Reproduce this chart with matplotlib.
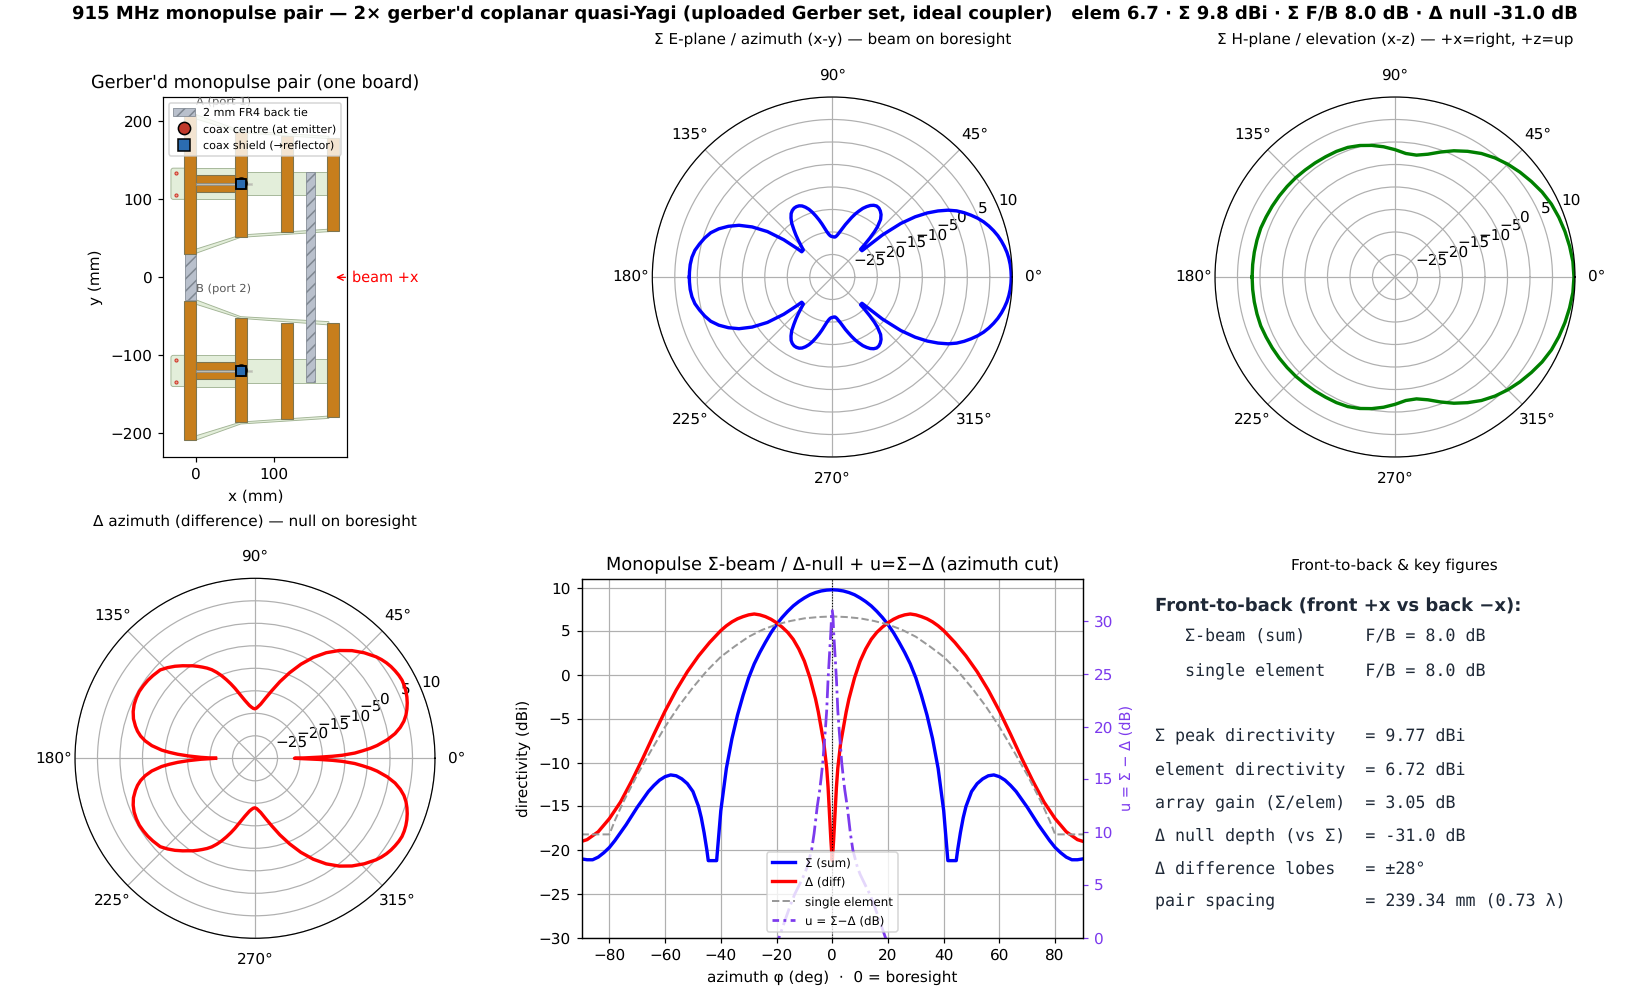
import numpy as np
import matplotlib
matplotlib.use('Agg')
import matplotlib.pyplot as plt
from matplotlib.patches import Rectangle, Polygon, FancyBboxPatch

plt.rcParams['text.hinting'] = 'none'
plt.rcParams['axes.labelpad'] = 4.8

# sum beam, azimuth cut (0..180, other side is the mirror)
sum_ang = [0,2,4,6,8,10,12,14,16,18,20,22,24,26,28,30,32,34,36,38,40,41.5,44.5,45,46,47,48,50,52,54,56,58,60,62,64,66,68,70,72,74,76,78,80,82,84,86,88,90,
           91,93,95,97,99,101,103,105,107,109,111,113,115,117,119,121,123,125,127,129,131,133,135,137,140.5,141,142.5,145,148,151,154,157,160,163,166,169,172,175,178,180]
sum_db = [9.77,9.73,9.63,9.45,9.2,8.84,8.42,7.92,7.3,6.6,5.8,4.85,3.76,2.6,1.3,-0.3,-2.3,-4.55,-7.25,-10.65,-15.5,-21.2,-21.2,-20.0,-18.0,-16.3,-15.0,-13.3,-12.4,-11.85,-11.5,-11.4,-11.6,-12.0,-12.6,-13.3,-14.2,-15.1,-16.1,-17.1,-18.0,-18.9,-19.7,-20.3,-20.8,-21.1,-21.1,-21.0,
          -21.0,-20.8,-20.4,-19.8,-19.0,-18.0,-17.0,-16.0,-15.0,-14.1,-13.4,-12.85,-12.55,-12.45,-12.5,-12.75,-13.2,-14.0,-15.0,-16.4,-17.7,-19.0,-20.2,-21.2,-21.2,-19.9,-16.4,-12.4,-9.0,-6.3,-4.3,-2.6,-1.25,-0.35,0.4,1.1,1.5,1.7,1.76,1.77]

# difference beam
diff_ang = [0,0.5,1,1.5,2,2.5,3,4,5,6,8,10,12,14,16,18,20,22,24,26,28,30,32,34,36,38,40,44,48,52,56,60,64,68,72,76,80,84,88,90,
            92,94,96,98,100,102,104,106,108,110,112,114,116,118,120,122,124,126,128,131,134,137,141,144,147,150,153,156,159,162,165,167,169,171,173,175,176,177,178,179,179.5,180]
diff_db = [-21.23,-18.8,-15.8,-12.8,-10.6,-9.2,-7.8,-6.0,-4.2,-2.7,-0.3,1.6,3.0,4.1,4.9,5.5,6.0,6.4,6.7,6.9,7.0,6.9,6.7,6.45,6.1,5.65,5.1,3.75,2.2,0.4,-1.7,-4.1,-6.75,-9.5,-12.1,-14.5,-16.4,-17.9,-18.8,-19.0,
           -18.9,-18.6,-18.2,-17.6,-16.9,-16.0,-15.0,-13.8,-12.6,-11.4,-10.2,-9.1,-8.1,-7.3,-6.6,-5.9,-5.2,-4.6,-3.9,-2.9,-2.0,-1.2,-0.8,-0.55,-0.4,-0.3,-0.4,-0.6,-1.0,-1.6,-2.5,-3.2,-4.1,-5.3,-6.9,-9.2,-10.9,-12.8,-15.2,-18.0,-20.0,-21.23]

# single element, only the front half is plotted
elem_ang = [0,5,10,15,20,25,30,35,40,45,50,55,60,65,70,75,78,80,85,90]
elem_db = [6.72,6.65,6.5,6.2,5.8,5.2,4.4,3.3,2.1,0.5,-1.4,-3.5,-5.9,-8.6,-11.4,-14.5,-16.6,-18.2,-18.2,-18.2]

# u = sum - diff near boresight, right axis
u_ang = [0,0.25,0.5,1,1.5,2,2.5,3,3.4,4,4.5,5.4,6.5,7.4,9,10,12,13.5,15,17,19.1,20]
u_db = [31.0,30.5,29.0,26.8,24.5,21.5,19.6,18.0,16.6,15.1,14.0,12.4,9.9,8.3,6.7,6.0,4.9,4.1,3.1,1.6,0.0,-0.4]

# elevation cut
elev_ang = list(range(0,185,5))
elev_db = [9.77,9.68,9.4,9.1,8.75,8.35,7.75,7.0,6.25,5.45,4.55,3.5,2.25,0.95,-0.45,-1.75,-2.5,-2.45,-1.7,-0.95,-0.3,0.25,0.65,0.8,0.85,0.95,1.05,1.2,1.3,1.4,1.5,1.6,1.75,1.75,1.75,1.75,1.75]

rticks = [-25,-20,-15,-10,-5,0,5,10]
az_ticks = [-80,-60,-40,-20,0,20,40,60,80]
db_ticks = [-30,-25,-20,-15,-10,-5,0,5,10]
u_ticks = [0,5,10,15,20,25,30]

# board outline in mm
reflector = [-16,0,30,209]
director_x = [(50,65),(108,124),(167,183)]
director_y = [(52,186),(58,181),(59,179)]
tie1 = [-14,0,-29,30]
tie2 = [140.5,152,-134.6,134.6]

heading = "Front-to-back (front +x vs back \u2212x):"
fb_lines = ["   \u03a3-beam (sum)      F/B = 8.0 dB",
            "   single element    F/B = 8.0 dB"]
key_lines = ["\u03a3 peak directivity   = 9.77 dBi",
             "element directivity  = 6.72 dBi",
             "array gain (\u03a3/elem)  = 3.05 dB",
             "\u0394 null depth (vs \u03a3)  = -31.0 dB",
             "\u0394 difference lobes   = \u00b128\u00b0",
             "pair spacing         = 239.34 mm (0.73 \u03bb)"]

W, H = 1650, 990
fig = plt.figure(figsize=(15,9), dpi=110)

def px_axes(left, top, right, bottom, **kw):
    # axes from pixel edges of the figure
    return fig.add_axes([left/W, 1-bottom/H, (right-left)/W, (bottom-top)/H], **kw)

def mirror(ang, val):
    ang = np.array(ang, dtype=float)
    val = np.array(val, dtype=float)
    return np.r_[-ang[::-1], ang[1:]], np.r_[val[::-1], val[1:]]

def polar_panel(cx, cy, r, ang, val, color, title):
    ax = px_axes(cx-r, cy-r, cx+r, cy+r, projection='polar')
    a, v = mirror(ang, val)
    ax.plot(np.radians(a), v, color=color, lw=2.2)
    ax.set_ylim(-30,10)
    ax.set_yticks(rticks)
    ax.set_title(title, fontsize=10, pad=15.8)
    return ax

fig.suptitle("915 MHz monopulse pair \u2014 2\u00d7 gerber'd coplanar quasi-Yagi (uploaded Gerber set, ideal coupler)"
             "   elem 6.7 \u00b7 \u03a3 9.8 dBi \u00b7 \u03a3 F/B 8.0 dB \u00b7 \u0394 null -31.0 dB",
             fontsize=11.76, fontweight='bold', y=0.9945)

# board layout
ax = px_axes(163.3,97.3,347.3,456.7)
copper = dict(facecolor='#c77e1c', edgecolor='#7d7550', lw=0.7, zorder=3)
sub = dict(facecolor='#e3eeda', edgecolor='#a3b596', lw=0.6, zorder=1)
hatch = dict(facecolor='#b9c0cc', edgecolor='#7f8791', hatch='///', lw=0.5, zorder=2)
for s in [1,-1]:
    yc = 120*s
    ax.add_patch(FancyBboxPatch((-32.5,yc-20),33,40,boxstyle='round,pad=0,rounding_size=3',**sub))
    ax.add_patch(Rectangle((0,yc-20),50,40,**sub))
    ax.add_patch(Rectangle((50,yc-15),125,30,**sub))
    for k in [1,-1]:
        # tapered strips between the elements
        yo = [31,51.3,58.6,61.8,54.3,36.3]
        if s < 0:
            yo = [29,50.4,56.8,61,52.6,34.6]
        yi = [208.5,188,180.8,177.8,185.5,203]
        ys = yo if k == 1 else yi
        pts = np.array([[0,ys[0]],[57,ys[1]],[170,ys[2]],[170,ys[3]],[57,ys[4]],[0,ys[5]]])
        pts[:,1] *= s
        ax.add_patch(Polygon(pts, **sub))
    ax.add_patch(Rectangle((reflector[0], min(s*reflector[2],s*reflector[3])), reflector[1]-reflector[0], reflector[3]-reflector[2], **copper))
    for (x0,x1),(y0,y1) in zip(director_x,director_y):
        ax.add_patch(Rectangle((x0,min(s*y0,s*y1)),x1-x0,y1-y0,**copper))
    ax.add_patch(Rectangle((0,yc+1),50,10,**copper))
    ax.add_patch(Rectangle((0,yc-10),50,9.5,**copper))
    ax.add_patch(Rectangle((0,yc-1),71,2,facecolor='#bdbdb5',edgecolor='#c8cdc0',lw=0.5,zorder=2.5))
    ax.add_patch(Rectangle((0,yc-1),50,2,facecolor='#bdbdb5',edgecolor='#8c8c84',lw=0.5,zorder=4))
    ax.plot([-26.5,-26.5],[yc+14,yc-14],'o',ms=2,mfc='#e8a090',mec='#d03a2c',mew=0.7,zorder=4,ls='none')
    ax.plot(57.3,yc+1.5,'o',ms=7,mfc='#c0392b',mec='black',mew=1.2,zorder=6)
    ax.plot(57.3,yc-0.3,'s',ms=7,mfc='#2b6cb0',mec='black',mew=1.2,zorder=7)
ax.add_patch(Rectangle((tie1[0],tie1[2]),tie1[1]-tie1[0],tie1[3]-tie1[2],**hatch))
ax.add_patch(Rectangle((tie2[0],tie2[2]),tie2[1]-tie2[0],tie2[3]-tie2[2],zorder=5,
                       facecolor='#b9c0cc',edgecolor='#7f8791',hatch='///',lw=0.5))
ax.text(0,225,'A (port 1)',fontsize=7.5,color='0.35',va='center')
ax.text(0,-15,'B (port 2)',fontsize=7.5,color='0.35',va='center')
ax.annotate('beam +x',xy=(179,0),xytext=(199,0),color='red',fontsize=9.5,va='center',
            arrowprops=dict(arrowstyle='->',color='red',lw=0.9,shrinkB=0),annotation_clip=False)
h1 = Rectangle((0,0),1,1,facecolor='#b9c0cc',edgecolor='#7f8791',hatch='///',lw=0.5)
h2, = ax.plot([],[],'o',ms=8,mfc='#c0392b',mec='black',mew=1.0,ls='none')
h3, = ax.plot([],[],'s',ms=8,mfc='#2b6cb0',mec='black',mew=1.0,ls='none')
ax.legend([h1,h2,h3],['2 mm FR4 back tie','coax centre (at emitter)','coax shield (\u2192reflector)'],
          loc='upper left',fontsize=7.25,bbox_to_anchor=(0.03,0.985),borderaxespad=0,
          handletextpad=0.7,labelspacing=0.55)
ax.set_aspect('equal')
ax.set_xlim(-42.3,193.6)
ax.set_ylim(-229.9,230.8)
ax.set_xticks([0,100])
ax.set_yticks([-200,-100,0,100,200])
ax.set_xlabel('x (mm)')
ax.set_ylabel('y (mm)')
ax.set_title("Gerber'd monopulse pair (one board)", fontsize=11.5)

# polar cuts
polar_panel(832.3,277,180,sum_ang,sum_db,'blue','\u03a3 E-plane / azimuth (x-y) \u2014 beam on boresight')
polar_panel(1395,277,180,elev_ang,elev_db,'green','\u03a3 H-plane / elevation (x-z) \u2014 +x=right, +z=up')
polar_panel(255,758.3,180,diff_ang,diff_db,'red','\u0394 azimuth (difference) \u2014 null on boresight')

# rectangular cut
ax = px_axes(581.5,579,1083,937.6)
a, v = mirror(sum_ang[:48], sum_db[:48])
l1, = ax.plot(a, v, color='blue', lw=2.2, label='\u03a3 (sum)')
a, v = mirror(diff_ang[:40], diff_db[:40])
l2, = ax.plot(a, v, color='red', lw=2.2, label='\u0394 (diff)')
a, v = mirror(elem_ang, elem_db)
l3, = ax.plot(a, v, color='0.6', lw=1.3, ls='--', label='single element')
ax.axvline(0, color='black', lw=0.7, ls=':')
ax.set_xlim(-90,90)
ax.set_ylim(-30,11)
ax.set_xticks(az_ticks)
ax.set_yticks(db_ticks)
ax.grid(True)
ax.set_xlabel('azimuth \u03c6 (deg)  \u00b7  0 = boresight')
ax.set_ylabel('directivity (dBi)')
ax.set_title('Monopulse \u03a3-beam / \u0394-null + u=\u03a3\u2212\u0394 (azimuth cut)', fontsize=11.6)
ax2 = ax.twinx()
a, v = mirror(u_ang, u_db)
l4, = ax2.plot(a, v, color='#7c3aed', lw=1.8, ls=(4,(6.4,1.6,1,1.6)), label='u = \u03a3\u2212\u0394 (dB)')
ax2.set_ylim(0,34)
ax2.set_yticks(u_ticks)
ax2.tick_params(axis='y', colors='#7c3aed')
ax2.set_ylabel('u = \u03a3 \u2212 \u0394 (dB)', color='#7c3aed', fontsize=9.5, labelpad=4)
ax2.legend([l1,l2,l3,l4],[l.get_label() for l in [l1,l2,l3,l4]],loc='lower center',fontsize=7.8,labelspacing=0.65)

# key figures
ax = px_axes(1155,579,1633,937.6)
ax.axis('off')
ax.set_title('Front-to-back & key figures', fontsize=10)
dy = 33.1/358.6
y = 1-(607-579)/358.6
ax.text(0,y,heading,fontsize=11.75,fontweight='bold',color='#1f2937',va='center',transform=ax.transAxes)
y = 1-(604.2-579)/358.6
for line in fb_lines+['']+key_lines:
    y -= dy
    ax.text(0,y,line,fontsize=10.85,family='monospace',color='#1f2937',va='center',transform=ax.transAxes)

fig.savefig('out.png', dpi=110)
